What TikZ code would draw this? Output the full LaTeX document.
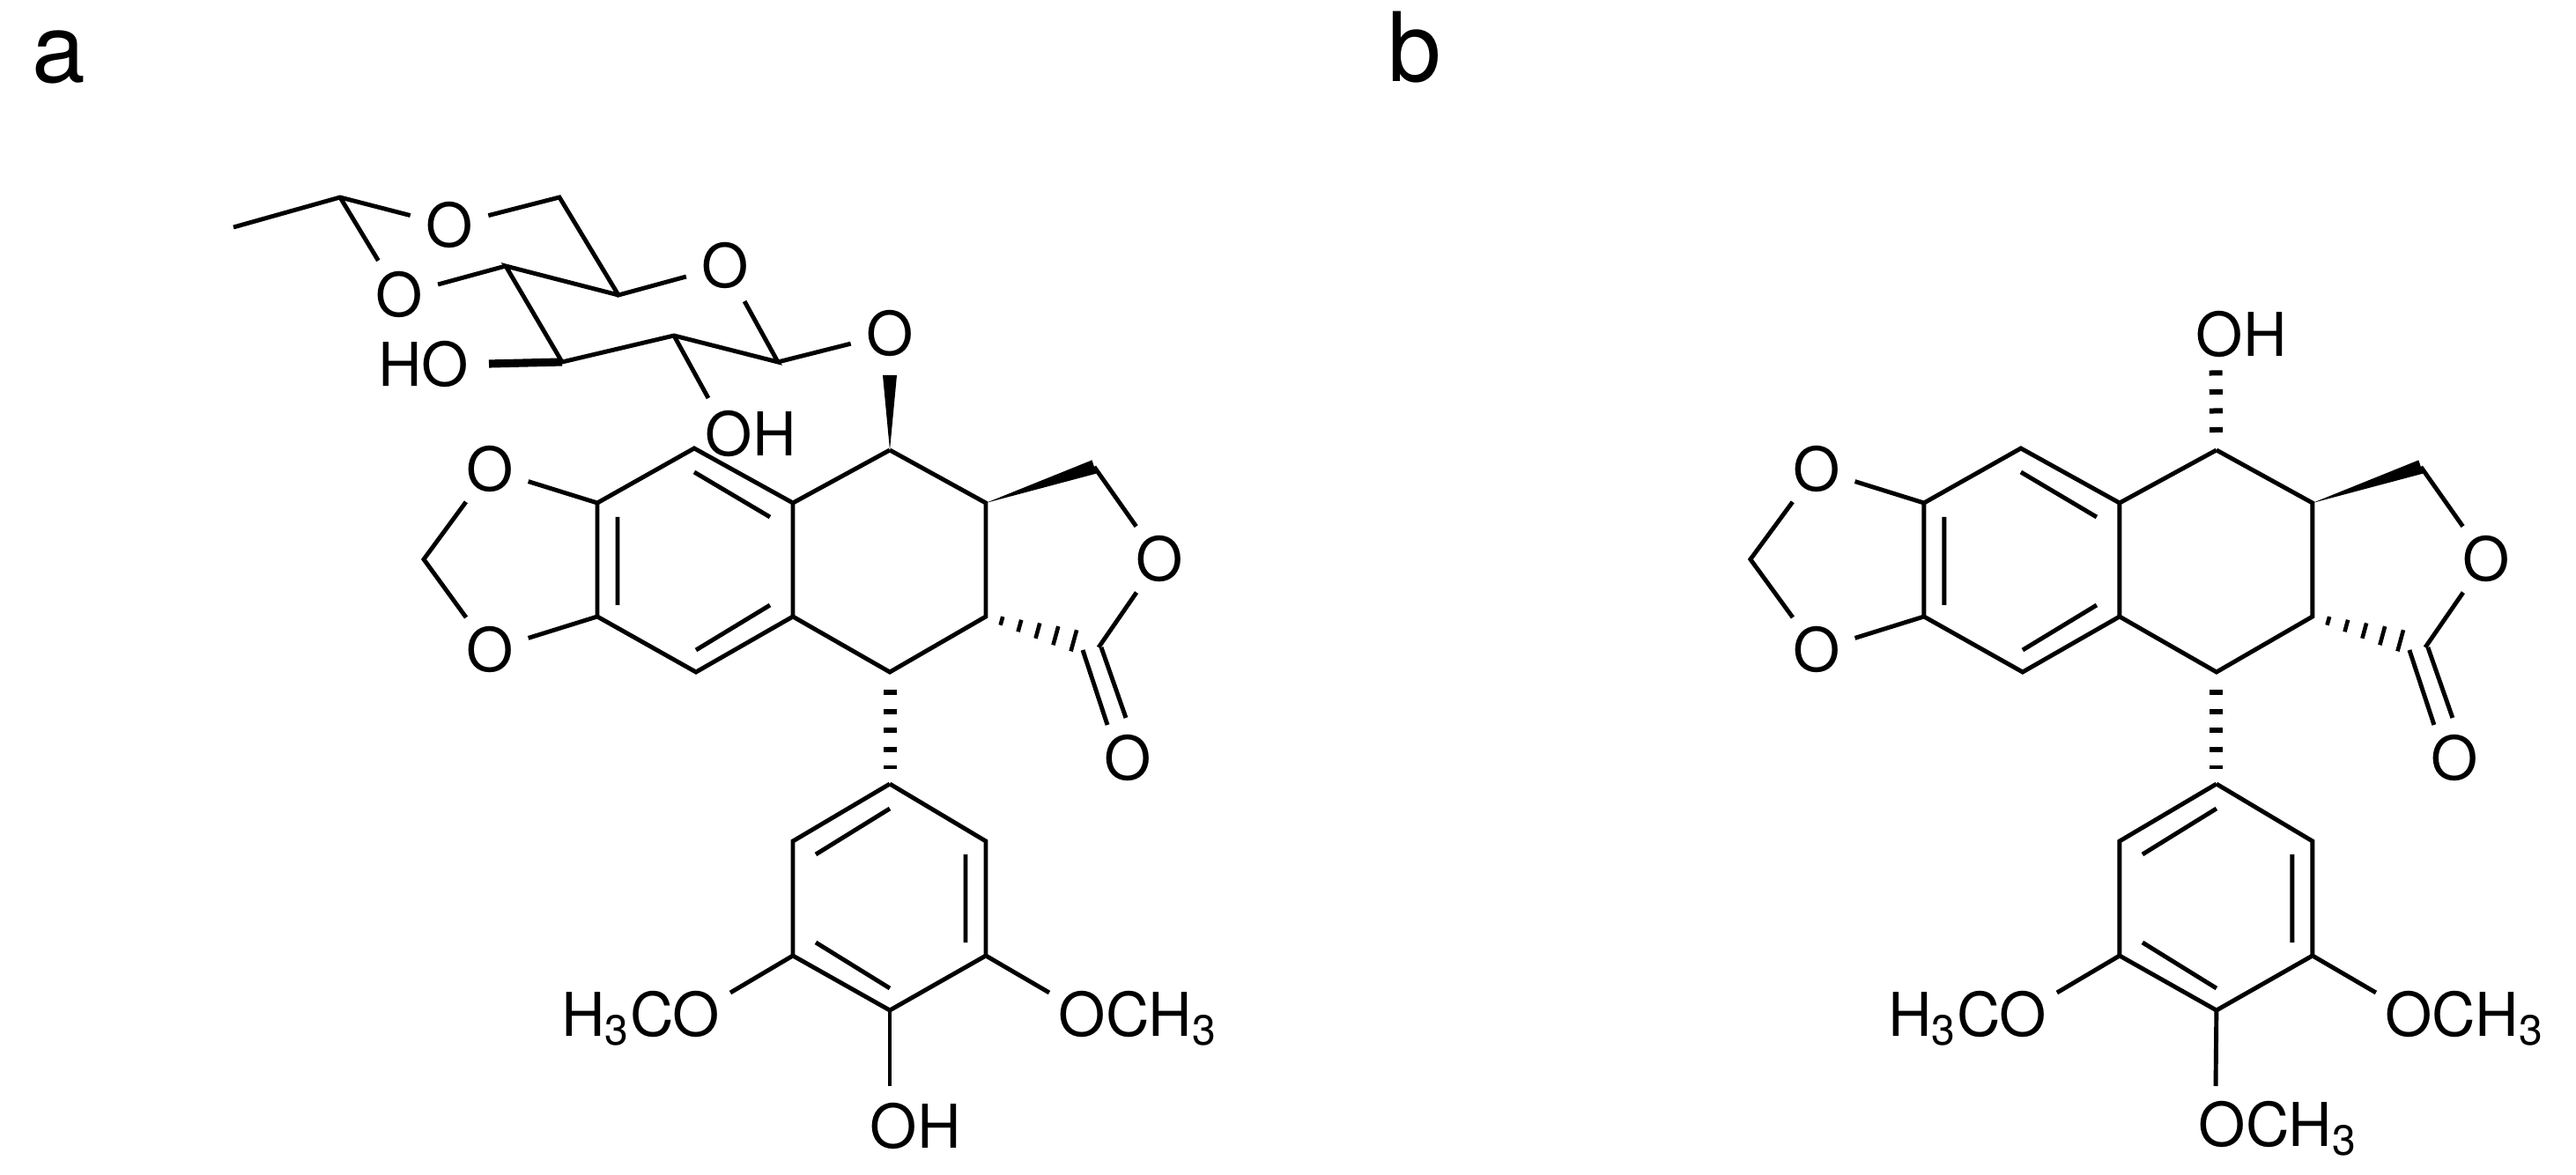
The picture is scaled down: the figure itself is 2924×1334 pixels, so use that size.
\documentclass[tikz,border=0pt]{standalone}
\usepackage{fontspec}
\setmainfont{TeX Gyre Heros}
\usetikzlibrary{calc}
\tikzset{
  bond/.style={line width=1.4pt},
  boldbond/.style={line width=2.6pt},
  atom/.style={circle,inner sep=0pt,minimum size=0.9cm,font=\fontsize{19.5}{23}\selectfont},
  lbl/.style={inner sep=0pt,font=\fontsize{19.5}{23}\selectfont},
  panel/.style={inner sep=0pt,font=\fontsize{31}{36}\selectfont},
  hashv/.style={line width=0.15cm,dash pattern=on 0.06cm off 0.155cm},
}
\newcommand{\aglyc}[2]{%
\begin{scope}[xshift=#2]
\coordinate (#1C4) at (1010,511);
\coordinate (#1Ft) at (900,571);
\coordinate (#1C2) at (1119,571);
\coordinate (#1C3) at (1119,700);
\coordinate (#1C1) at (1010,763);
\coordinate (#1Fb) at (900,700);
\coordinate (#1At) at (788,509);
\coordinate (#1ALt) at (678,571);
\coordinate (#1ALb) at (678,700);
\coordinate (#1Ab) at (790,763);
\node[atom] (#1OT) at (556,533) {O};
\node[atom] (#1OB) at (556,738) {O};
\coordinate (#1CHd) at (481,635);
\coordinate (#1CHl) at (1242,530);
\node[atom] (#1Ol) at (1316,635) {O};
\coordinate (#1Cl) at (1247,735);
\node[atom] (#1Oc) at (1280,861) {O};
\coordinate (#1d1a) at (1229,738); \coordinate (#1d1b) at (1257,823);
\coordinate (#1d2a) at (1250,735); \coordinate (#1d2b) at (1278,815);
% inner ring A lines
\coordinate (#1i1a) at (788,536); \coordinate (#1i1b) at (874,587);
\coordinate (#1i2a) at (701,587); \coordinate (#1i2b) at (701,687);
\coordinate (#1i3a) at (790,738); \coordinate (#1i3b) at (874,687);
% aryl ring
\coordinate (#1Ar) at (1010,890);
\coordinate (#1TL) at (900,955);
\coordinate (#1BL) at (900,1085);
\coordinate (#1Bt) at (1010,1147);
\coordinate (#1BR) at (1119,1085);
\coordinate (#1TR) at (1119,955);
\coordinate (#1j1a) at (926,970); \coordinate (#1j1b) at (1010,918);
\coordinate (#1j2a) at (1096,970); \coordinate (#1j2b) at (1096,1070);
\coordinate (#1j3a) at (926,1070); \coordinate (#1j3b) at (1010,1122);
\coordinate (#1mL) at (829,1127);
\coordinate (#1mR) at (1191,1127);
\node[lbl,anchor=base east] (#1H3CO) at (818,1176) {H\textsubscript{3}CO};
\node[lbl,anchor=base west] (#1OCH3r) at (1201,1176) {OCH\textsubscript{3}};
% bonds
\draw[bond] (#1C4) -- (#1Ft) -- (#1Fb) -- (#1C1) -- (#1C3) -- (#1C2) -- (#1C4);
\draw[bond] (#1Ft) -- (#1At) -- (#1ALt) -- (#1ALb) -- (#1Ab) -- (#1Fb);
\draw[bond] (#1i1a) -- (#1i1b) (#1i2a) -- (#1i2b) (#1i3a) -- (#1i3b);
\draw[bond] (#1ALt) -- (#1OT) -- (#1CHd) -- (#1OB) -- (#1ALb);
\fill (#1C2) -- ($(#1CHl)!0.08cm!90:(#1C2)$) -- ($(#1CHl)!0.08cm!-90:(#1C2)$) -- cycle;
\draw[bond] (#1CHl) -- (#1Ol) -- (#1Cl);
\draw[bond] (#1d1a) -- (#1d1b) (#1d2a) -- (#1d2b);
\foreach \t/\h in {0.14/0.05,0.30/0.07,0.46/0.09,0.62/0.11,0.78/0.125}
  \draw[line width=1.3pt] ($(#1C3)!\t!(#1Cl)!\h cm!90:(#1Cl)$) -- ($(#1C3)!\t!(#1Cl)!\h cm!-90:(#1Cl)$);
\draw[hashv,shorten <=0.2cm,shorten >=0.17cm] (#1C1) -- (#1Ar);
\draw[bond] (#1Ar) -- (#1TL) -- (#1BL) -- (#1Bt) -- (#1BR) -- (#1TR) -- (#1Ar);
\draw[bond] (#1j1a) -- (#1j1b) (#1j2a) -- (#1j2b) (#1j3a) -- (#1j3b);
\draw[bond] (#1BL) -- (#1mL) (#1BR) -- (#1mR);
\end{scope}}
\begin{document}
\begin{tikzpicture}[x=0.01cm,y=-0.01cm]
\useasboundingbox (0,0) rectangle (2924,1334);
\node[panel,anchor=base west] (la) at (36,94) {a};
\node[panel,anchor=base west] (lb) at (1575,93) {b};
% ---------- structure a ----------
\aglyc{a}{0cm}
% sugar
\coordinate (Me) at (265,258);
\coordinate (Ac) at (386,224);
\node[atom] (O1) at (510,256) {O};
\coordinate (CHs) at (635,224);
\coordinate (C5s) at (702,335);
\node[atom] (Or) at (823,302) {O};
\node[atom] (O2) at (453,335) {O};
\coordinate (C4s) at (574,302);
\coordinate (C3s) at (638,411);
\coordinate (HOe) at (555,413);
\coordinate (C2s) at (765,381);
\coordinate (OHe) at (804,452);
\coordinate (C1s) at (883,411);
\node[atom] (Og) at (1010,379) {O};
\coordinate (gtip) at (1010,426);
\node[lbl,anchor=base east] (HO) at (533,439) {HO};
\node[lbl,anchor=base west] (OHs) at (800,518) {OH};
\draw[bond] (Me) -- (Ac) -- (O1) -- (CHs) -- (C5s) -- (Or) -- (C1s) -- (C2s) -- (C3s) -- (C4s) -- (C5s);
\draw[bond] (Ac) -- (O2) -- (C4s);
\draw[boldbond] (HOe) -- (C3s);
\draw[bond] (C2s) -- (OHe);
\draw[bond] (C1s) -- (Og);
\fill (aC4) -- ($(gtip)!0.08cm!90:(aC4)$) -- ($(gtip)!0.08cm!-90:(aC4)$) -- cycle;
\coordinate (aOHe) at (1010,1233);
\draw[bond] (aBt) -- (aOHe);
\node[lbl,anchor=base west] (aOHb) at (987,1303) {OH};
% ---------- structure b ----------
\aglyc{b}{15.05cm}
\coordinate (bOtip) at (2515,420);
\node[lbl,anchor=base west] (bOH) at (2492,405) {OH};
\draw[hashv,shorten <=0.2cm] (bC4) -- (bOtip);
\coordinate (bOMe) at (2515,1233);
\draw[bond] (bBt) -- (bOMe);
\node[lbl,anchor=base west] (bOCH3) at (2495,1301) {OCH\textsubscript{3}};
\end{tikzpicture}
\end{document}
